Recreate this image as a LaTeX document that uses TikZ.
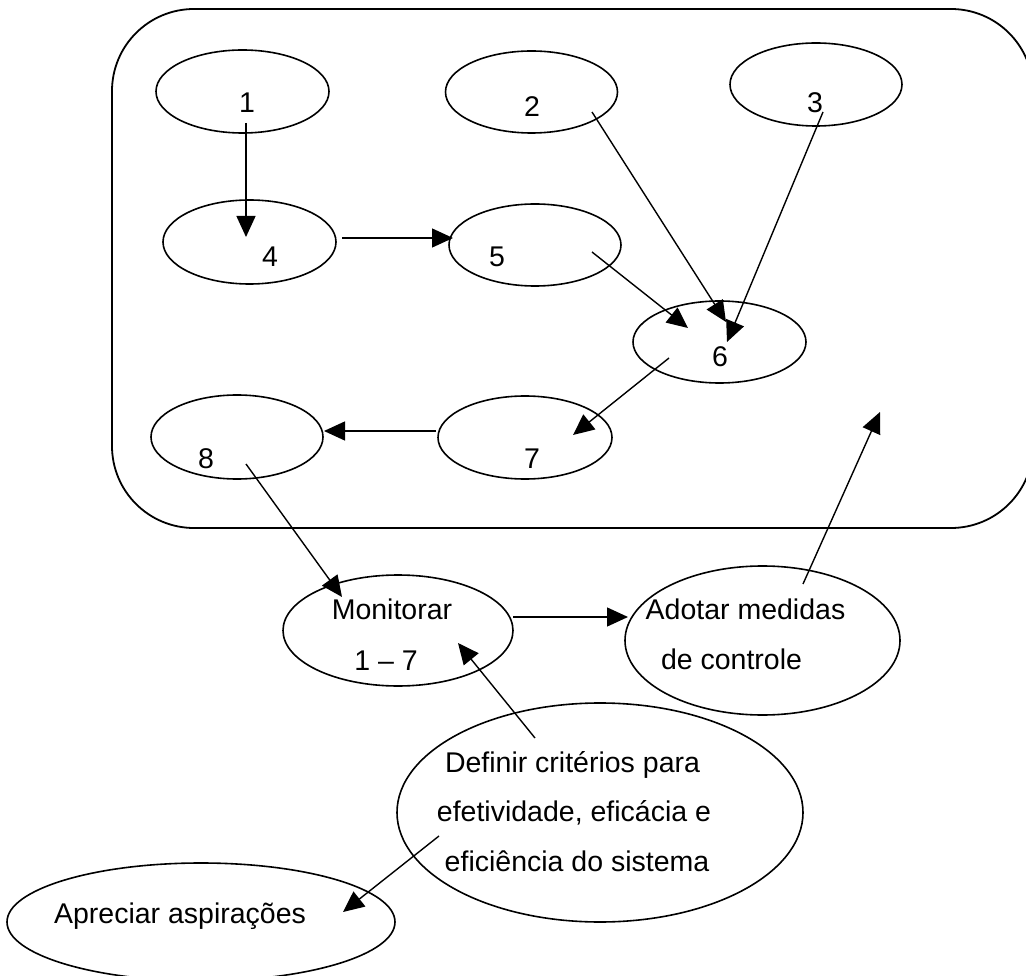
\documentclass[tikz,border=0pt]{standalone}
\usepackage{fontspec}
\setmainfont{Liberation Sans}
\usetikzlibrary{shapes.geometric,arrows.meta}
\begin{document}
\begin{tikzpicture}[x=1pt,y=-1pt,
  ell/.style={draw, ellipse, line width=1.6pt, inner sep=0pt, outer sep=0pt},
  lbl/.style={anchor=base, inner sep=0pt, font=\fontsize{28.5}{34}\selectfont},
  arr/.style={line width=1.4pt, -{Triangle[length=21pt,width=19pt]}}]
\useasboundingbox (0,0) rectangle (1026,976);
\clip (0,0) rectangle (1026,976);

% system boundary
\draw[line width=1.8pt, rounded corners=82pt] (112,9) rectangle (1033,528);
\coordinate (inbox) at (880,412);

% process ellipses
\node[ell, minimum width=173pt, minimum height=83pt] (e1) at (242.5,91.5) {};
\node[ell, minimum width=172pt, minimum height=82pt] (e2) at (531.5,92) {};
\node[ell, minimum width=172pt, minimum height=83pt] (e3) at (816,84.5) {};
\node[ell, minimum width=173pt, minimum height=84pt] (e4) at (249.5,242) {};
\node[ell, minimum width=172pt, minimum height=82pt] (e5) at (535,245) {};
\node[ell, minimum width=173pt, minimum height=82pt] (e6) at (719.5,342) {};
\node[ell, minimum width=174pt, minimum height=83pt] (e7) at (525,437.5) {};
\node[ell, minimum width=172pt, minimum height=84pt] (e8) at (237,437) {};
\node[ell, minimum width=230pt, minimum height=111pt] (mon) at (398,630.5) {};
\node[ell, minimum width=275pt, minimum height=149pt] (ado) at (762.5,640.5) {};
\node[ell, minimum width=406pt, minimum height=219pt] (def) at (600,812.5) {};
\node[ell, minimum width=388pt, minimum height=118pt] (apr) at (201,922) {};

% labels
\node[lbl] (t1) at (247,113) {1};
\node[lbl] (t2) at (532,117) {2};
\node[lbl] (t3) at (815,113) {3};
\node[lbl] (t4) at (270,267) {4};
\node[lbl] (t5) at (497,267) {5};
\node[lbl] (t6) at (720,367) {6};
\node[lbl] (t7) at (532,468) {7};
\node[lbl] (t8) at (206,468) {8};
\node[lbl] (tmon1) at (392,619) {Monitorar};
\node[lbl] (tmon2) at (386,670) {1 – 7};
\node[lbl] (tado1) at (745.5,619) {Adotar medidas};
\node[lbl] (tado2) at (731.5,669) {de controle};
\node[lbl] (tdef1) at (572.5,772) {Definir critérios para};
\node[lbl] (tdef2) at (574,821) {efetividade, eficácia e};
\node[lbl] (tdef3) at (577,871) {eficiência do sistema};
\node[lbl] (tapr) at (180,923) {Apreciar aspirações};

% connectors
\draw[arr] ([shift={(3.5,31.5)}]e1.center) -- ([shift={(-3.5,-5)}]e4.center);
\draw[arr] ([shift={(92.5,-4)}]e4.center) -- ([shift={(-82,-7)}]e5.center);
\draw[arr] ([shift={(60.5,20)}]e2.center) -- ([shift={(6.5,-20)}]e6.center);
\draw[arr] ([shift={(7,27.5)}]e3.center) -- ([shift={(7.5,0)}]e6.center);
\draw[arr] ([shift={(57,7)}]e5.center) -- ([shift={(-31.5,-14)}]e6.center);
\draw[arr] ([shift={(-50.5,16)}]e6.center) -- ([shift={(48,-2.5)}]e7.center);
\draw[arr] ([shift={(-89,-6.5)}]e7.center) -- ([shift={(87,-6)}]e8.center);
\draw[arr] ([shift={(9,27)}]e8.center) -- ([shift={(-56,-33.5)}]mon.center);
\draw[arr] ([shift={(115,-13.5)}]mon.center) -- ([shift={(-134.5,-23.5)}]ado.center);
\draw[arr] ([shift={(40.5,-56.5)}]ado.center) -- (inbox);
\draw[arr] ([shift={(-65,-74.5)}]def.center) -- ([shift={(60,12.5)}]mon.center);
\draw[arr] ([shift={(-161,23.5)}]def.center) -- ([shift={(142,-10)}]apr.center);
\end{tikzpicture}
\end{document}
